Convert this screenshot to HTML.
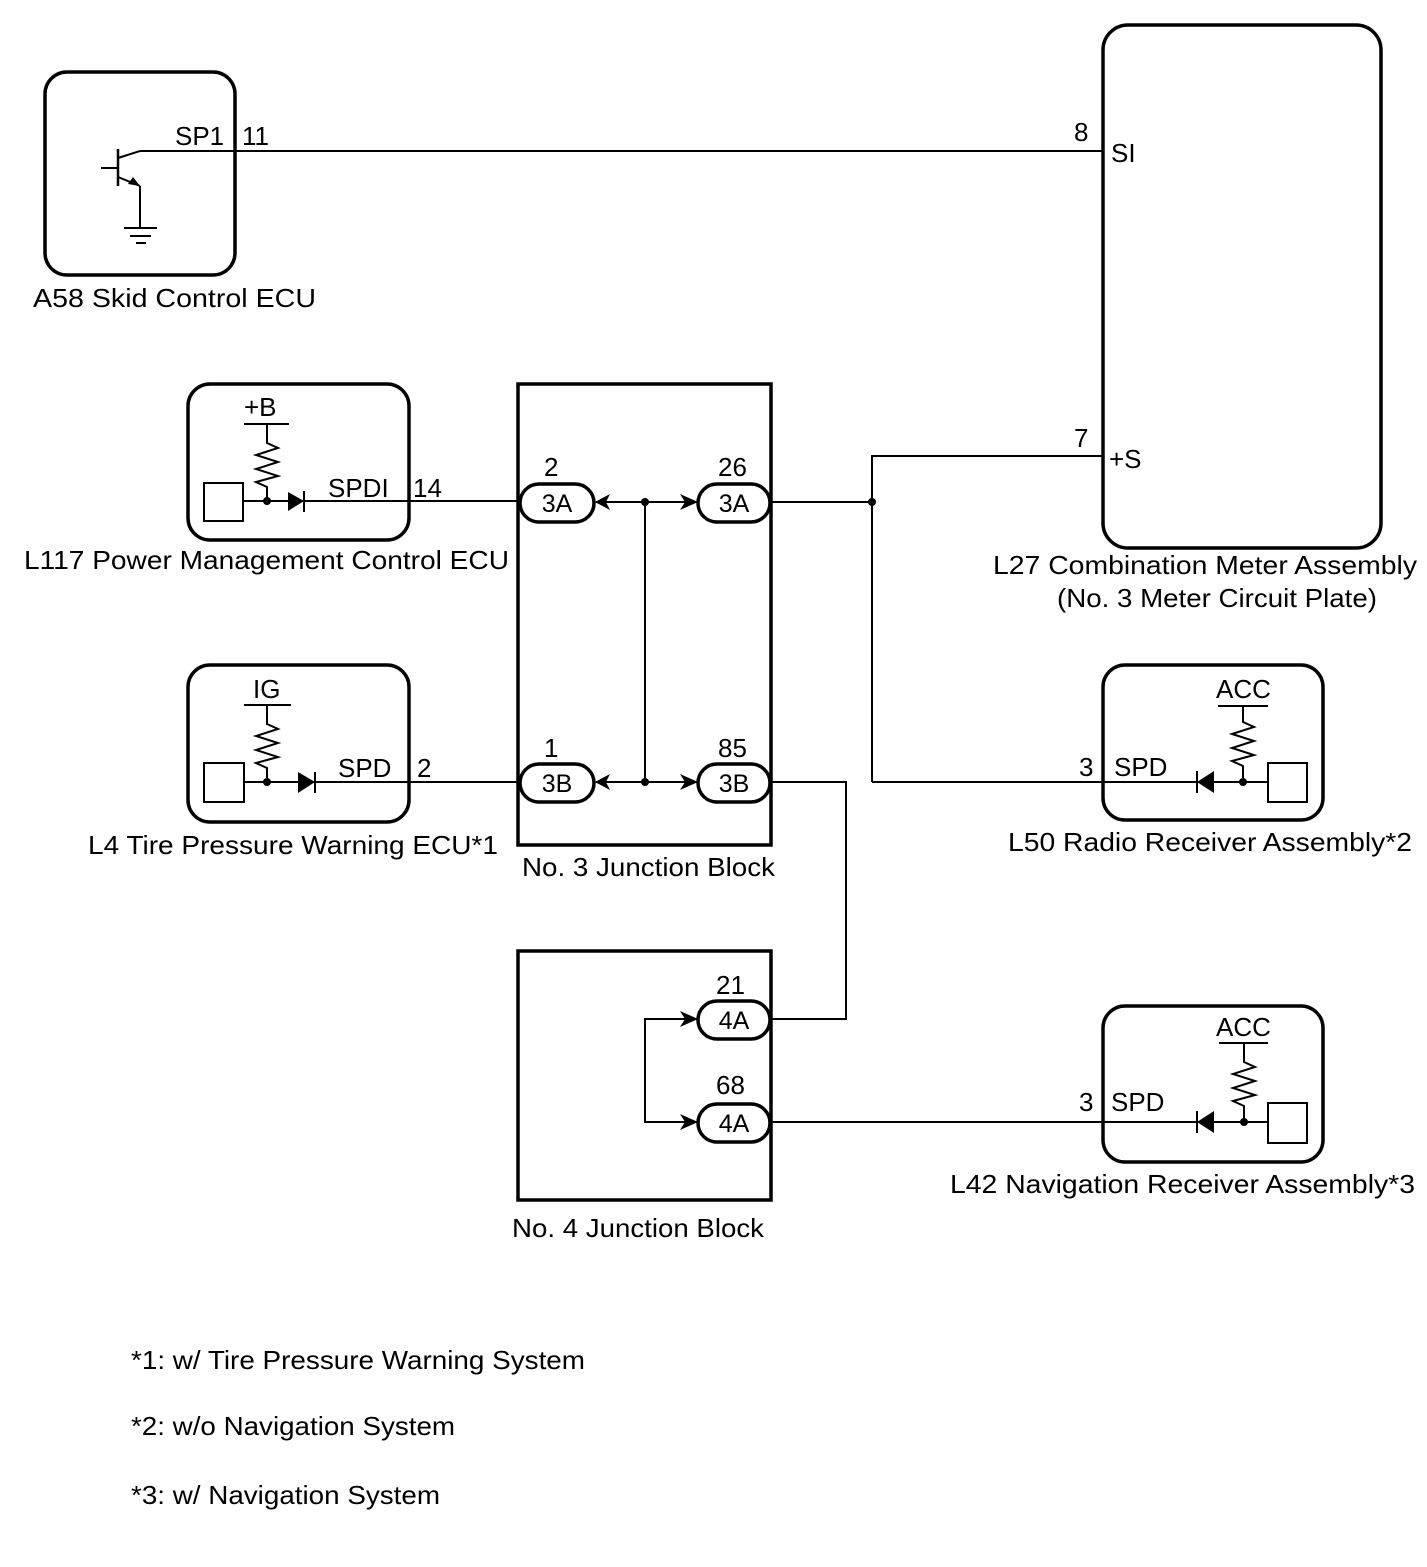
<!DOCTYPE html>
<html><head><meta charset="utf-8"><style>
html,body{margin:0;padding:0;background:#fff}
svg text{font-family:"Liberation Sans",Arial,sans-serif;font-size:26px;fill:#000}
</style></head><body>
<svg width="1427" height="1562" viewBox="0 0 1427 1562" xmlns="http://www.w3.org/2000/svg">
<g fill="none" stroke="#000">
<rect x="45" y="72" width="190" height="203" rx="22" stroke-width="3.5"/>
<rect x="1103" y="25" width="278" height="523" rx="25" stroke-width="3.5"/>
<rect x="188" y="384" width="221" height="156" rx="22" stroke-width="3.5"/>
<rect x="188" y="665" width="221" height="157" rx="22" stroke-width="3.5"/>
<rect x="1103" y="665" width="220" height="155" rx="22" stroke-width="3.5"/>
<rect x="1103" y="1006" width="220" height="156" rx="22" stroke-width="3.5"/>
<rect x="518" y="384" width="253" height="461" stroke-width="3.5"/>
<rect x="518" y="951" width="253" height="249" stroke-width="3.5"/>

<g stroke-width="2">
<line x1="140" y1="151" x2="1103" y2="151"/>
<line x1="118" y1="149" x2="118" y2="186" stroke-width="2.5"/>
<line x1="101" y1="168" x2="118" y2="168"/>
<line x1="118" y1="158" x2="140" y2="151"/>
<line x1="118" y1="177" x2="140" y2="186"/>
<line x1="140" y1="186" x2="140" y2="228"/>
<line x1="124" y1="228" x2="157" y2="228"/>
<line x1="130" y1="236" x2="151" y2="236"/>
<line x1="136" y1="243" x2="146" y2="243"/>

<line x1="244" y1="424" x2="289" y2="424"/>
<polyline points="267,424 267,443 278,448 256,455 278,462 256,469 278,476 256,482 267,487 267,501"/>
<rect x="204" y="483" width="39" height="38"/>
<line x1="243" y1="501" x2="520" y2="501"/>
<line x1="304" y1="491" x2="304" y2="512"/>

<line x1="244" y1="705" x2="291" y2="705"/>
<polyline points="267,705 267,724 278,729 256,736 278,743 256,750 278,757 256,763 267,768 267,782"/>
<rect x="204" y="763" width="40" height="39"/>
<line x1="244" y1="782" x2="520" y2="782"/>
<line x1="315" y1="772" x2="315" y2="793"/>

<line x1="1218" y1="706" x2="1268" y2="706"/>
<polyline points="1243,706 1243,722 1254,727 1232,734 1254,741 1232,748 1254,755 1232,761 1243,766 1243,782"/>
<rect x="1268" y="763" width="39" height="39"/>
<line x1="872" y1="782" x2="1268" y2="782"/>
<line x1="1197" y1="771" x2="1197" y2="793"/>

<line x1="1219" y1="1043" x2="1268" y2="1043"/>
<polyline points="1244,1043 1244,1062 1255,1067 1233,1074 1255,1081 1233,1088 1255,1095 1233,1101 1244,1106 1244,1122"/>
<rect x="1268" y="1103" width="39" height="40"/>
<line x1="770" y1="1122" x2="1268" y2="1122"/>
<line x1="1197" y1="1111" x2="1197" y2="1133"/>

<polyline points="1103,456 872,456 872,782"/>
<line x1="770" y1="502" x2="872" y2="502"/>

<line x1="596" y1="502" x2="698" y2="502"/>
<line x1="596" y1="782" x2="698" y2="782"/>
<line x1="645" y1="502" x2="645" y2="782"/>
<polyline points="770,782 846,782 846,1019 770,1019"/>

<polyline points="698,1019 645,1019 645,1122 698,1122"/>
</g>

<g stroke-width="3.5" fill="#fff">
<rect x="520" y="484" width="74" height="38" rx="19"/>
<rect x="698" y="484" width="72" height="38" rx="19"/>
<rect x="520" y="764" width="74" height="38" rx="19"/>
<rect x="698" y="764" width="72" height="38" rx="19"/>
<rect x="698" y="1001" width="72" height="38" rx="19"/>
<rect x="698" y="1104" width="72" height="38" rx="19"/>
</g>
</g>

<g fill="#000" stroke="none">
<polygon points="140,186 128,184 133,177"/>
<polygon points="288,492 304,501 288,511"/>
<polygon points="298,772 315,782 298,793"/>
<polygon points="1214,771 1197,782 1214,793"/>
<polygon points="1214,1111 1197,1122 1214,1133"/>
<circle cx="267" cy="501" r="4"/>
<circle cx="267" cy="782" r="4"/>
<circle cx="1243" cy="782" r="4"/>
<circle cx="1244" cy="1122" r="4"/>
<circle cx="872" cy="502" r="4"/>
<circle cx="645" cy="502" r="4"/>
<circle cx="645" cy="782" r="4"/>
<polygon points="595,502 610,494 606,502 610,510"/>
<polygon points="595,782 610,774 606,782 610,790"/>
<polygon points="698,502 680,494 685,502 680,510"/>
<polygon points="698,782 680,774 685,782 680,790"/>
<polygon points="698,1019 680,1011 685,1019 680,1027"/>
<polygon points="698,1122 680,1114 685,1122 680,1130"/>
</g>

<text x="175" y="145">SP1</text>
<text x="242" y="145">11</text>
<text x="1074" y="141">8</text>
<text x="1111" y="162">SI</text>
<text x="1074" y="447">7</text>
<text x="1109" y="468">+S</text>
<text x="244" y="416">+B</text>
<text x="328" y="497">SPDI</text>
<text x="413" y="497">14</text>
<text x="253" y="698">IG</text>
<text x="338" y="777">SPD</text>
<text x="417" y="777">2</text>
<text x="1216" y="698">ACC</text>
<text x="1079" y="776">3</text>
<text x="1114" y="776">SPD</text>
<text x="1216" y="1036">ACC</text>
<text x="1079" y="1111">3</text>
<text x="1111" y="1111">SPD</text>
<text x="544" y="476">2</text>
<text x="718" y="476">26</text>
<text x="544" y="757">1</text>
<text x="718" y="757">85</text>
<text x="716" y="994">21</text>
<text x="716" y="1094">68</text>
<text x="557" y="512" text-anchor="middle" style="font-size:25px">3A</text>
<text x="734" y="512" text-anchor="middle" style="font-size:25px">3A</text>
<text x="557" y="792" text-anchor="middle" style="font-size:25px">3B</text>
<text x="734" y="792" text-anchor="middle" style="font-size:25px">3B</text>
<text x="734" y="1029" text-anchor="middle" style="font-size:25px">4A</text>
<text x="734" y="1132" text-anchor="middle" style="font-size:25px">4A</text>

<text x="33" y="307" textLength="283" lengthAdjust="spacingAndGlyphs">A58  Skid Control ECU</text>
<text x="24" y="569" textLength="485" lengthAdjust="spacingAndGlyphs">L117  Power Management Control ECU</text>
<text x="993" y="574" textLength="424" lengthAdjust="spacingAndGlyphs">L27  Combination Meter Assembly</text>
<text x="1057" y="607" textLength="320" lengthAdjust="spacingAndGlyphs">(No. 3 Meter Circuit Plate)</text>
<text x="88" y="854" textLength="410" lengthAdjust="spacingAndGlyphs">L4  Tire Pressure Warning ECU*1</text>
<text x="522" y="876" textLength="253" lengthAdjust="spacingAndGlyphs">No. 3 Junction Block</text>
<text x="1008" y="851" textLength="404" lengthAdjust="spacingAndGlyphs">L50  Radio Receiver Assembly*2</text>
<text x="950" y="1193" textLength="465" lengthAdjust="spacingAndGlyphs">L42  Navigation Receiver Assembly*3</text>
<text x="512" y="1237" textLength="252" lengthAdjust="spacingAndGlyphs">No. 4 Junction Block</text>
<text x="131" y="1369" textLength="454" lengthAdjust="spacingAndGlyphs">*1: w/ Tire Pressure Warning System</text>
<text x="131" y="1435" textLength="324" lengthAdjust="spacingAndGlyphs">*2: w/o Navigation System</text>
<text x="131" y="1504" textLength="309" lengthAdjust="spacingAndGlyphs">*3: w/ Navigation System</text>
</svg>
</body></html>
